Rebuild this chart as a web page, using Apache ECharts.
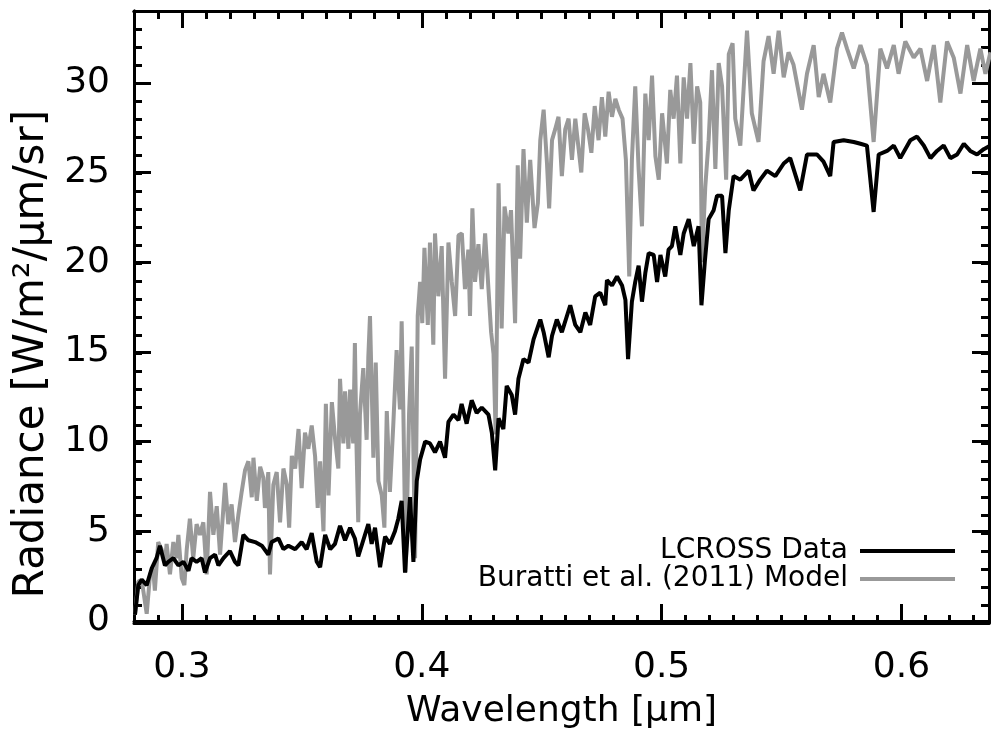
<!DOCTYPE html>
<html><head><meta charset="utf-8">
<script src="https://cdn.jsdelivr.net/npm/echarts@6/dist/echarts.min.js"></script>
<style>html,body{margin:0;padding:0;background:#fff}#c{width:992px;height:735px}</style>
</head><body><div id="c"></div>
<script>
// LCROSS measured radiance
const dataWl = [0.2804,0.2818,0.2832,0.2853,0.2873,0.2894,0.2908,0.2929,0.2943,0.2964,0.2985,0.3006,0.3027,0.3040,0.3061,0.3082,0.3096,0.3117,0.3138,0.3152,0.3173,0.3200,0.3221,0.3235,0.3256,0.3277,0.3305,0.3333,0.3360,0.3374,0.3402,0.3423,0.3444,0.3472,0.3499,0.3520,0.3541,0.3562,0.3576,0.3597,0.3618,0.3638,0.3659,0.3680,0.3701,0.3721,0.3735,0.3756,0.3777,0.3791,0.3805,0.3826,0.3847,0.3867,0.3888,0.3902,0.3916,0.3930,0.3951,0.3965,0.3979,0.3993,0.4014,0.4034,0.4055,0.4076,0.4097,0.4111,0.4132,0.4153,0.4166,0.4187,0.4208,0.4229,0.4250,0.4278,0.4292,0.4306,0.4320,0.4340,0.4354,0.4375,0.4389,0.4403,0.4424,0.4445,0.4466,0.4494,0.4508,0.4529,0.4543,0.4563,0.4584,0.4605,0.4619,0.4640,0.4661,0.4682,0.4702,0.4723,0.4744,0.4765,0.4772,0.4793,0.4814,0.4835,0.4849,0.4860,0.4876,0.4890,0.4904,0.4918,0.4932,0.4946,0.4967,0.4981,0.4995,0.5015,0.5029,0.5043,0.5057,0.5078,0.5092,0.5113,0.5134,0.5154,0.5166,0.5180,0.5196,0.5217,0.5231,0.5252,0.5266,0.5280,0.5300,0.5328,0.5363,0.5383,0.5411,0.5439,0.5474,0.5509,0.5536,0.5564,0.5578,0.5606,0.5648,0.5675,0.5703,0.5717,0.5759,0.5801,0.5829,0.5856,0.5884,0.5905,0.5940,0.5968,0.5995,0.6037,0.6065,0.6093,0.6121,0.6148,0.6176,0.6204,0.6232,0.6260,0.6287,0.6315,0.6343,0.6371];
const dataVal = [0.35,2.0,2.3,2.0,2.9,3.5,4.2,3.1,3.3,3.5,3.1,3.3,2.8,3.5,3.3,3.5,2.7,3.5,3.7,3.1,3.5,3.9,3.3,3.1,4.8,4.5,4.4,4.2,3.7,4.4,4.6,4.0,4.2,4.0,4.4,4.0,4.9,3.3,3.0,4.8,4.0,4.3,5.3,4.5,5.2,4.6,3.6,4.5,5.4,4.3,5.2,3.0,4.7,4.3,5.0,5.7,6.7,2.7,6.9,3.3,7.8,9.0,10.0,9.9,9.4,10.0,9.1,11.1,11.5,11.2,12.1,11.0,12.3,11.6,11.9,11.5,10.5,8.4,11.3,10.7,13.1,12.6,11.5,13.5,14.6,14.4,15.7,16.8,16.1,14.7,15.9,16.8,16.1,17.0,17.6,16.5,16.1,17.2,16.5,18.1,18.3,17.6,19.0,18.7,19.2,18.7,17.9,14.6,17.8,18.9,19.8,17.8,19.4,20.5,20.4,18.9,20.4,19.2,20.7,20.9,22.0,20.4,21.6,22.4,20.9,22.0,17.6,20.0,22.4,22.9,23.7,23.7,20.5,22.9,24.8,24.6,25.1,24.0,24.6,25.1,24.8,25.5,25.8,24.6,24.0,26.0,26.0,25.6,24.8,26.7,26.8,26.7,26.6,26.5,22.8,26.0,26.2,26.5,25.8,26.8,27.0,26.5,25.8,26.2,26.5,25.8,26.0,26.6,26.2,26.0,26.3,26.5];

// Buratti et al. (2011) model radiance
const modelWl = [0.2804,0.2818,0.2832,0.2853,0.2867,0.2880,0.2887,0.2901,0.2915,0.2929,0.2936,0.2950,0.2964,0.2978,0.2985,0.2999,0.3010,0.3020,0.3033,0.3047,0.3061,0.3075,0.3089,0.3103,0.3117,0.3131,0.3145,0.3159,0.3180,0.3193,0.3207,0.3221,0.3235,0.3249,0.3263,0.3277,0.3291,0.3298,0.3312,0.3326,0.3339,0.3346,0.3360,0.3367,0.3381,0.3395,0.3409,0.3423,0.3437,0.3447,0.3458,0.3472,0.3486,0.3499,0.3513,0.3527,0.3541,0.3555,0.3566,0.3576,0.3590,0.3600,0.3611,0.3625,0.3638,0.3652,0.3659,0.3673,0.3680,0.3694,0.3701,0.3714,0.3721,0.3728,0.3735,0.3742,0.3756,0.3770,0.3777,0.3784,0.3798,0.3808,0.3819,0.3833,0.3844,0.3854,0.3867,0.3881,0.3895,0.3909,0.3916,0.3923,0.3933,0.3947,0.3958,0.3972,0.3983,0.3993,0.4002,0.4011,0.4025,0.4034,0.4048,0.4055,0.4069,0.4083,0.4097,0.4111,0.4125,0.4139,0.4153,0.4167,0.4180,0.4194,0.4201,0.4211,0.4222,0.4236,0.4250,0.4264,0.4278,0.4289,0.4299,0.4308,0.4320,0.4333,0.4345,0.4361,0.4372,0.4389,0.4400,0.4410,0.4424,0.4438,0.4452,0.4470,0.4484,0.4494,0.4508,0.4522,0.4531,0.4543,0.4556,0.4570,0.4584,0.4598,0.4612,0.4626,0.4640,0.4654,0.4665,0.4679,0.4693,0.4707,0.4721,0.4737,0.4751,0.4765,0.4779,0.4793,0.4807,0.4821,0.4837,0.4851,0.4865,0.4876,0.4890,0.4904,0.4918,0.4932,0.4946,0.4960,0.4974,0.4988,0.5002,0.5022,0.5036,0.5050,0.5064,0.5078,0.5092,0.5106,0.5120,0.5134,0.5148,0.5161,0.5168,0.5182,0.5196,0.5210,0.5224,0.5238,0.5252,0.5269,0.5280,0.5296,0.5307,0.5328,0.5356,0.5376,0.5404,0.5425,0.5446,0.5467,0.5488,0.5509,0.5529,0.5550,0.5585,0.5606,0.5634,0.5655,0.5675,0.5703,0.5731,0.5752,0.5773,0.5801,0.5829,0.5856,0.5884,0.5912,0.5940,0.5968,0.5988,0.6016,0.6051,0.6079,0.6107,0.6135,0.6162,0.6190,0.6218,0.6246,0.6274,0.6301,0.6329,0.6350,0.6371];
const modelVal = [0.35,2.2,2.3,0.4,2.6,2.9,1.7,4.4,4.0,3.3,4.3,2.6,4.4,3.5,4.8,2.4,2.0,4.0,5.7,3.5,5.4,4.8,5.5,2.6,7.2,4.8,6.4,3.7,7.7,5.4,6.5,4.4,5.9,7.2,8.4,8.9,6.9,9.1,6.7,8.6,8.0,6.3,8.3,2.6,7.6,8.3,5.5,8.5,7.6,5.2,9.2,8.5,10.7,7.4,10.5,9.6,10.9,9.2,6.3,8.9,5.0,12.1,7.0,12.2,10.2,8.5,13.5,9.9,12.8,9.6,12.9,9.9,15.5,9.6,5.5,11.5,14.1,10.1,14.7,17.0,9.1,14.4,7.8,7.0,5.2,11.7,7.2,10.9,15.1,11.8,16.7,11.8,2.7,11.6,15.3,3.5,17.0,18.9,16.6,20.8,16.5,21.1,15.4,21.6,18.1,20.9,13.5,21.1,18.9,17.0,21.5,21.6,18.5,20.7,17.0,23.0,18.9,21.0,18.5,21.6,18.5,16.1,14.9,10.4,24.4,16.3,23.1,21.6,22.9,16.6,25.4,20.2,26.3,22.2,25.7,21.9,23.3,26.8,28.5,25.5,23.0,26.8,27.4,28.1,24.8,27.4,28.0,25.7,28.0,26.3,25.0,28.3,27.4,26.1,28.7,26.8,29.2,27.0,29.5,28.1,29.1,28.5,28.0,25.7,19.2,25.7,29.8,25.2,22.0,29.4,26.8,30.4,25.9,24.6,28.3,25.5,29.6,28.0,30.4,25.5,30.3,28.0,31.1,26.6,29.8,28.9,20.0,24.2,26.8,30.7,25.2,31.1,29.8,24.6,31.6,32.2,28.0,26.5,32.9,28.3,26.7,31.2,32.6,30.5,32.9,30.3,31.7,31.0,28.5,30.5,32.1,29.2,30.5,28.9,31.9,32.8,31.9,30.8,32.1,31.0,26.7,31.9,30.8,32.1,30.5,32.3,31.4,31.9,30.1,32.1,28.9,32.3,31.4,29.4,32.1,30.1,31.9,30.5,31.7];

const seriesNames = ['LCROSS Data', 'Buratti et al. (2011) Model'];
const xMajorTicks = [0.3, 0.4, 0.5, 0.6];
const yMajorTicks = [0, 5, 10, 15, 20, 25, 30];
const xMinorTicks = [];
for (let k = 28; k <= 63; k++) xMinorTicks.push(+(k / 100).toFixed(2));
const yMinorTicks = [];
for (let k = 0; k <= 33; k++) yMinorTicks.push(k);

const FONT = 'DejaVu Sans';
const X_MIN = 0.28, X_MAX = 0.6365, Y_MIN = 0, Y_MAX = 34;
const gridRect = { left: 134, right: 3, top: 11, bottom: 112 };

function pairs(xs, ys) { return xs.map((x, i) => [x, ys[i]]); }

function xAx(gridIndex, position, ticks, major, labels) {
  return {
    type: 'value', gridIndex, position, min: X_MIN, max: X_MAX,
    axisLine: { show: true, onZero: false, lineStyle: { color: '#000', width: 3 } },
    axisTick: { show: true, inside: true, length: major ? 17 : 8, customValues: ticks, lineStyle: { color: '#000', width: 3 } },
    axisLabel: { show: labels, customValues: xMajorTicks, margin: 29, color: '#000', fontSize: 36, fontFamily: FONT },
    splitLine: { show: false }
  };
}
function yAx(gridIndex, position, ticks, major, labels) {
  return {
    type: 'value', gridIndex, position, min: Y_MIN, max: Y_MAX,
    axisLine: { show: true, onZero: false, lineStyle: { color: '#000', width: 3 } },
    axisTick: { show: true, inside: true, length: major ? 17 : 8, customValues: ticks, lineStyle: { color: '#000', width: 3 } },
    axisLabel: { show: labels, customValues: yMajorTicks, margin: 24, color: '#000', fontSize: 36, fontFamily: FONT },
    splitLine: { show: false }
  };
}

const xAxes = [
  Object.assign(xAx(0, 'bottom', xMajorTicks, true, true), {
    name: 'Wavelength [μm]', nameLocation: 'middle', nameGap: 73,
    nameTextStyle: { color: '#000', fontSize: 36, fontFamily: FONT }
  }),
  xAx(0, 'top', xMajorTicks, true, false),
  xAx(1, 'bottom', xMinorTicks, false, false),
  xAx(1, 'top', xMinorTicks, false, false)
];
const yAxes = [
  Object.assign(yAx(0, 'left', yMajorTicks, true, true), {
    name: 'Radiance [W/m²/μm/sr]', nameLocation: 'middle', nameGap: 76,
    nameTextStyle: { color: '#000', fontSize: 42, fontFamily: FONT, padding: [0, 76, 0, 0] }
  }),
  yAx(0, 'right', yMajorTicks, true, false),
  yAx(1, 'left', yMinorTicks, false, false),
  yAx(1, 'right', yMinorTicks, false, false)
];

const chart = echarts.init(document.getElementById('c'), null, { renderer: 'canvas' });
chart.setOption({
  backgroundColor: '#fff',
  animation: false,
  grid: [Object.assign({}, gridRect), Object.assign({}, gridRect)],
  xAxis: xAxes,
  yAxis: yAxes,
  legend: {
    data: seriesNames,
    orient: 'vertical', align: 'right',
    right: 32, top: 532,
    icon: 'rect',
    itemWidth: 95, itemHeight: 4, itemGap: 0,
    textStyle: { color: '#000', fontSize: 28, fontFamily: FONT, lineHeight: 27, padding: [0, 7, 0, 0] }
  },
  series: [
    {
      name: seriesNames[0], type: 'line', xAxisIndex: 0, yAxisIndex: 0,
      data: pairs(dataWl, dataVal), symbol: 'none',
      lineStyle: { color: '#000', width: 4 }, itemStyle: { color: '#000' }, z: 3
    },
    {
      name: seriesNames[1], type: 'line', xAxisIndex: 0, yAxisIndex: 0,
      data: pairs(modelWl, modelVal), symbol: 'none',
      lineStyle: { color: '#999999', width: 4 }, itemStyle: { color: '#999999' }, z: 2
    }
  ]
});
</script>
</body></html>
